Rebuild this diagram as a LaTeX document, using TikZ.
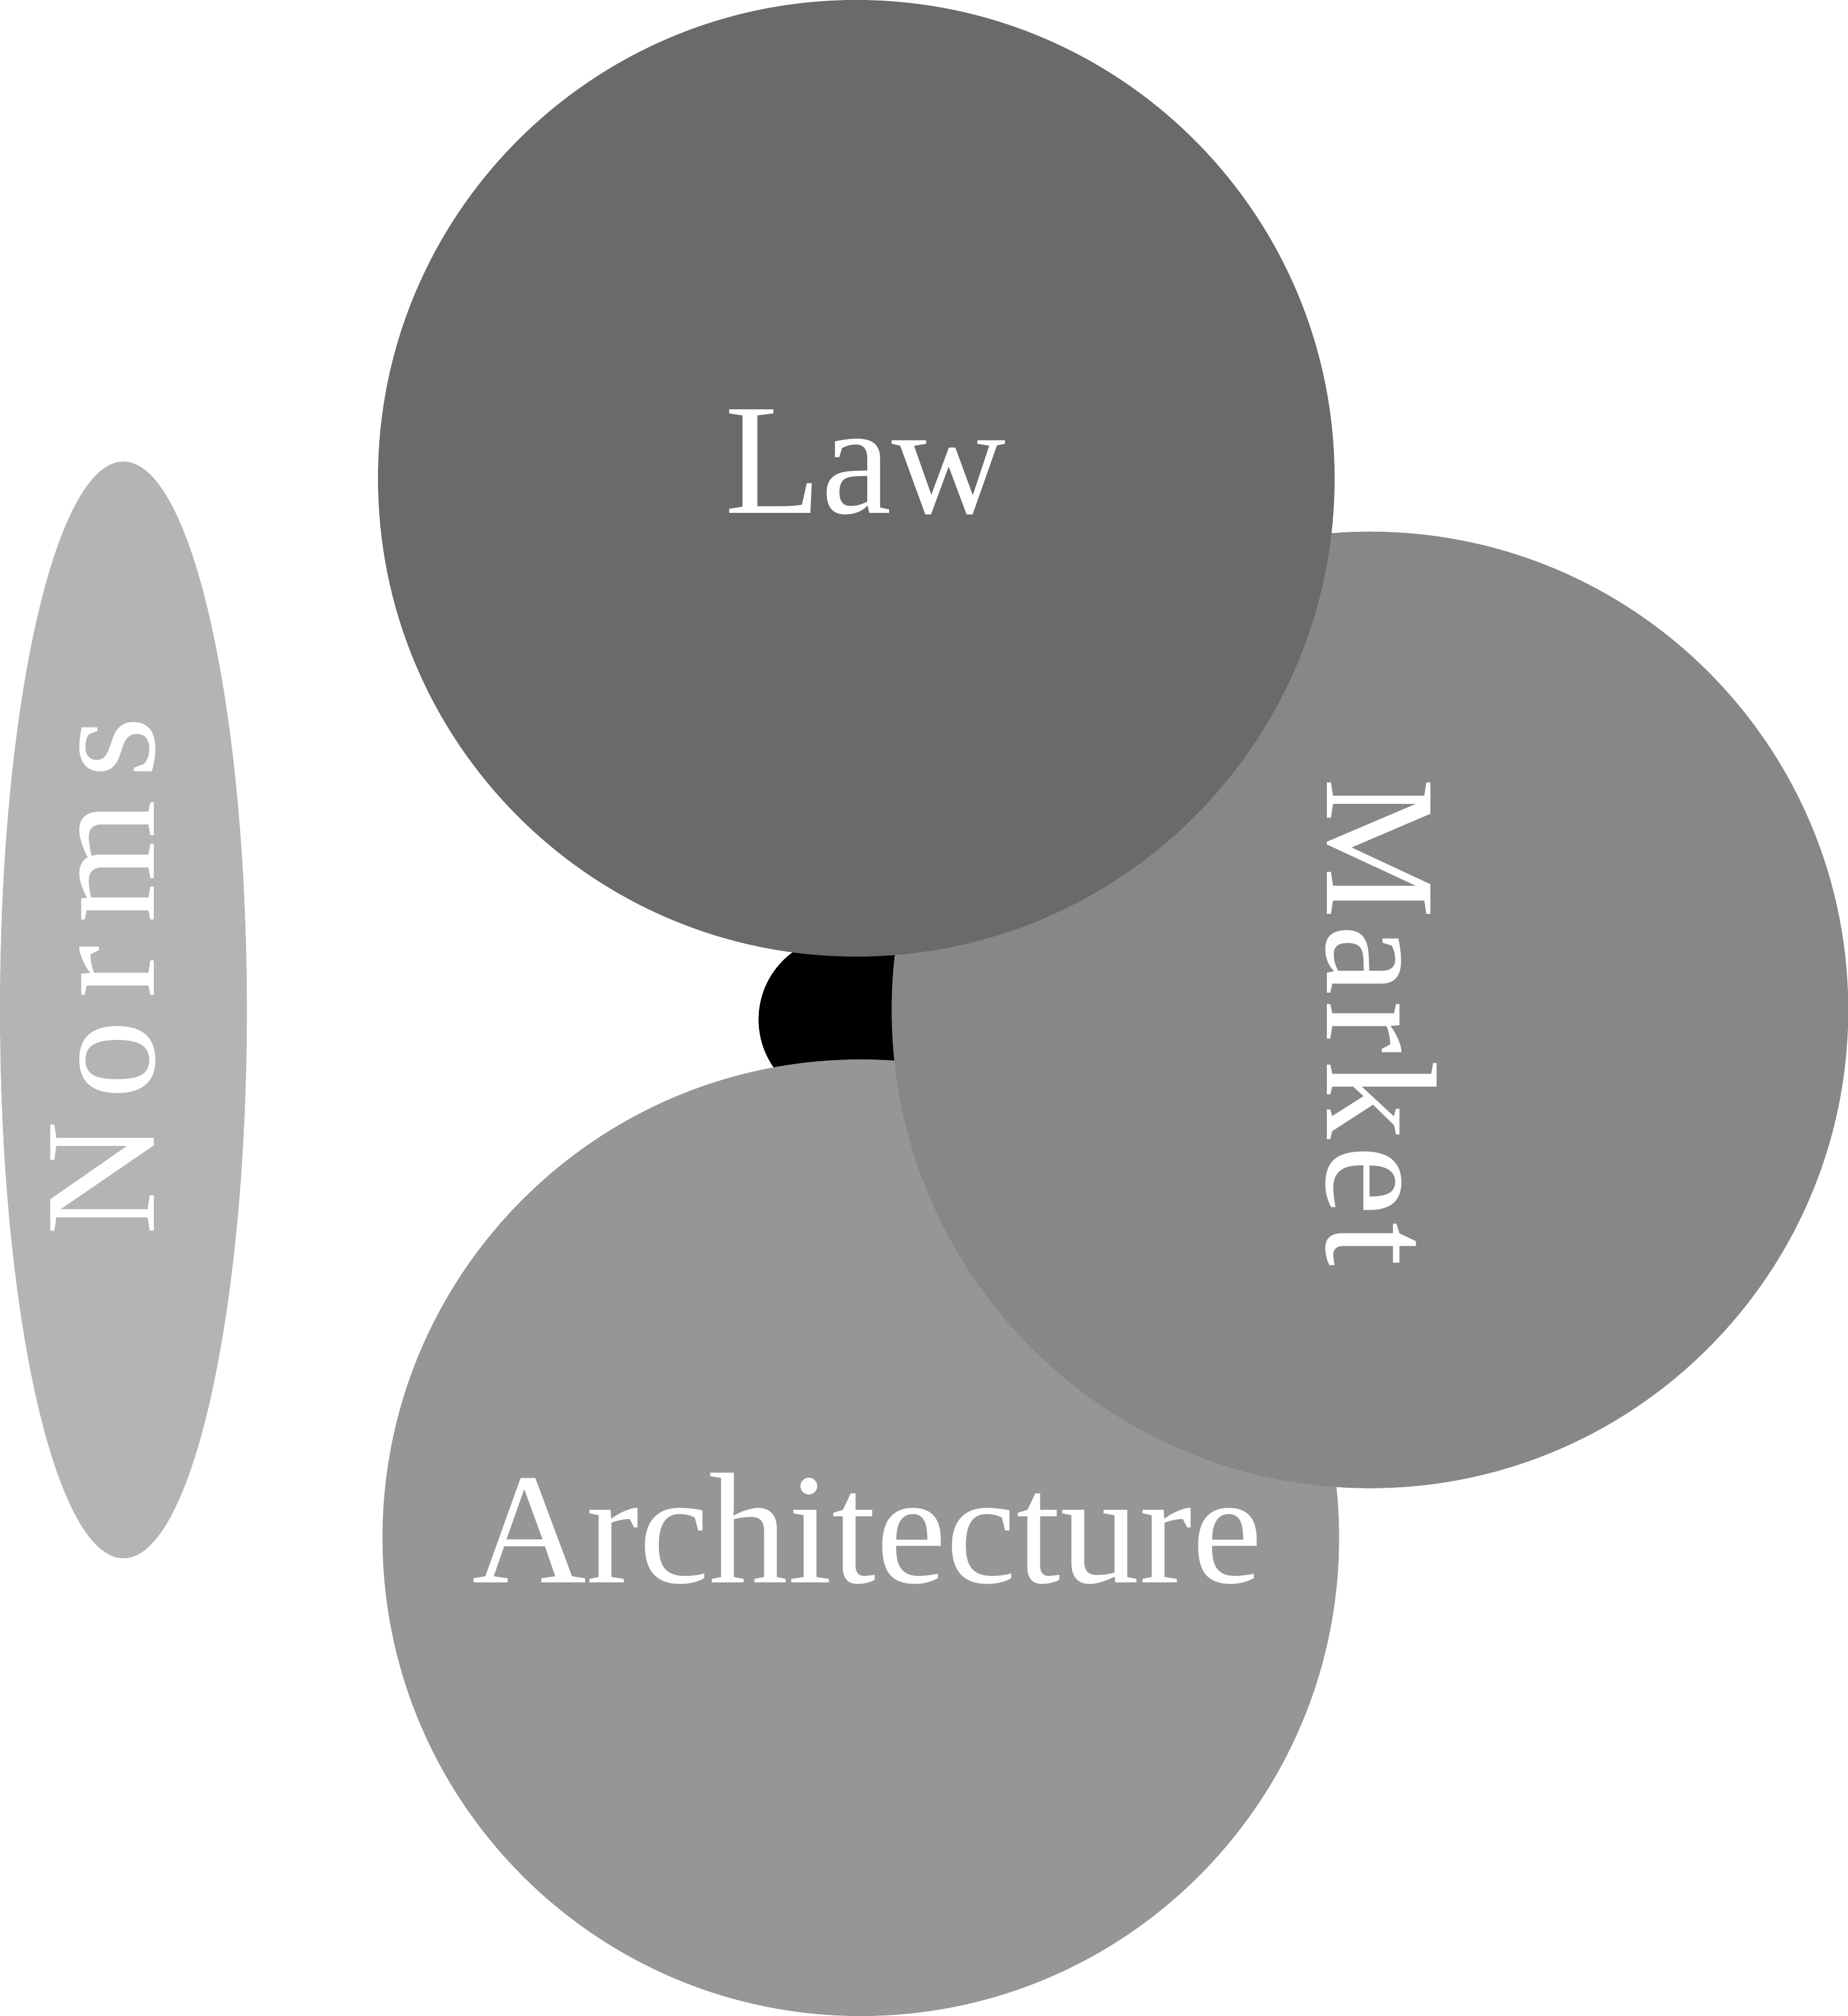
\documentclass[tikz,border=0pt]{standalone}
\usepackage{fontspec}
\setmainfont{Liberation Serif}
\usetikzlibrary{shapes.geometric}

\definecolor{lawgray}{HTML}{6A6A6A}
\definecolor{marketgray}{HTML}{878787}
\definecolor{archgray}{HTML}{969696}
\definecolor{normsgray}{HTML}{B4B4B4}

\tikzset{
  force/.style={circle,minimum size=7.44cm,inner sep=0pt},
  normsbox/.style={ellipse,minimum width=1.92cm,minimum height=8.53cm,inner sep=0pt},
  forcename/.style={inner sep=0pt,text=white,font=\fontsize{35}{42}\selectfont}
}

\begin{document}
\begin{tikzpicture}
\useasboundingbox (0,0) rectangle (14.37,-15.68);
\node[normsbox,fill=normsgray] (norms) at (0.96,-7.855) {};
\fill (6.55,-7.93) circle (0.65cm);
\node[force,fill=archgray] (arch) at (6.695,-11.96) {};
\node[force,fill=marketgray] (market) at (10.655,-7.855) {};
\node[force,fill=lawgray] (law) at (6.66,-3.72) {};
% names of the four forces
\node[forcename,rotate=90] (normsname) at (0.80,-7.59) {\addfontfeature{LetterSpace=14}Norms};
\node[forcename,rotate=-90] (marketname) at (10.745,-7.95) {\addfontfeature{LetterSpace=4}Market};
\node[forcename] (archname) at (6.745,-11.89) {Architecture};
\node[forcename] (lawname) at (6.73,-3.595) {Law};
\end{tikzpicture}
\end{document}
